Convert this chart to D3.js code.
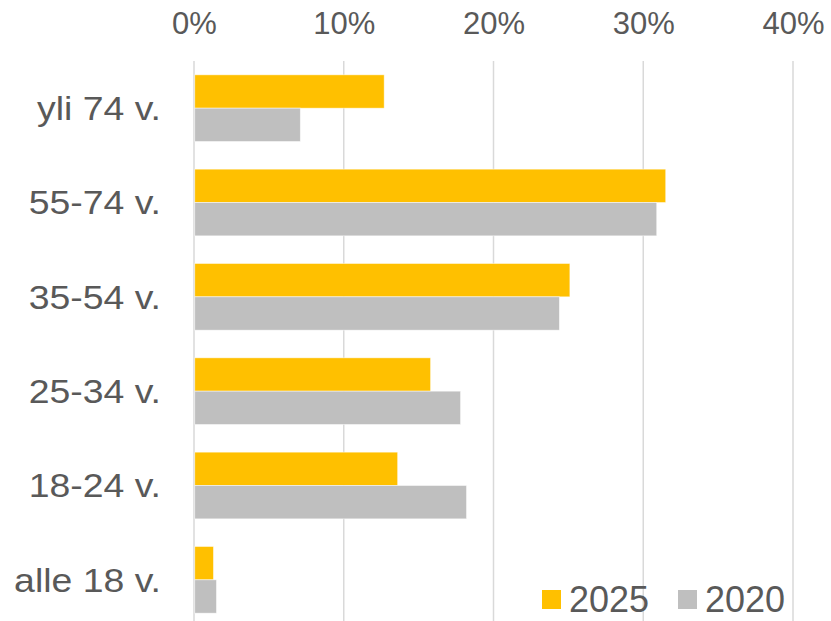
<!DOCTYPE html>
<html>
<head>
<meta charset="utf-8">
<script src="https://cdn.jsdelivr.net/npm/d3@7"></script>
<style>
  html, body { margin: 0; padding: 0; background: #fff; }
  svg { display: block; }
  text { font-family: "Liberation Sans", Arial, sans-serif; fill: #595959; }
</style>
</head>
<body>
<script>
const categories = ["yli 74 v.", "55-74 v.", "35-54 v.", "25-34 v.", "18-24 v.", "alle 18 v."];
const seriesNames = ["2025", "2020"];
const values2025 = [12.7, 31.5, 25.1, 15.8, 13.6, 1.3];
const values2020 = [7.1, 30.9, 24.4, 17.8, 18.2, 1.5];
const tickValues = [0, 10, 20, 30, 40];
const colors = ["#FFC000", "#BFBFBF"];

const W = 831, H = 621;
const svg = d3.select("body").append("svg").attr("width", W).attr("height", H);

const x = d3.scaleLinear().domain([0, 40]).range([194, 793]);
const y = d3.scaleBand().domain(categories).range([61, 627]).paddingInner(0.293).paddingOuter(0.1465);
const ySub = d3.scaleBand().domain(seriesNames).range([0, y.bandwidth()]);

// gridlines
svg.append("g").selectAll("line").data(tickValues).join("line")
  .attr("x1", d => x(d)).attr("x2", d => x(d))
  .attr("y1", 61).attr("y2", H)
  .attr("stroke", "#d9d9d9").attr("stroke-width", 1.5);

// top axis labels
const axis = d3.axisTop(x).tickValues(tickValues).tickFormat(d => d + "%").tickSize(0).tickPadding(0);
const ag = svg.append("g").attr("transform", "translate(0,34)").call(axis);
ag.select(".domain").remove();
ag.selectAll("text").attr("font-size", 31).attr("fill", "#595959")
  .attr("font-family", "Liberation Sans, Arial, sans-serif").attr("dy", 0);

// bars
const rows = categories.map((c, i) => ({ cat: c, vals: [values2025[i], values2020[i]] }));
const groups = svg.append("g").selectAll("g").data(rows).join("g")
  .attr("transform", d => `translate(0,${y(d.cat)})`);
groups.selectAll("rect").data(d => d.vals.map((v, j) => ({ v, s: seriesNames[j], j })))
  .join("rect")
  .attr("x", x(0) + 0.75)
  .attr("y", d => ySub(d.s))
  .attr("width", d => x(d.v) - x(0) - 0.75)
  .attr("height", ySub.bandwidth())
  .attr("fill", d => colors[d.j])
  .attr("stroke", "#ffffff").attr("stroke-opacity", 0.6).attr("stroke-width", 0.8);

// category labels
svg.append("g").selectAll("text").data(categories).join("text")
  .attr("transform", d => `translate(161,${y(d) + y.bandwidth() / 2 + 11.8}) scale(1.1,1)`)
  .attr("text-anchor", "end")
  .attr("font-size", 34)
  .text(d => d);

// legend
const legendX = [542, 678];
const lg = svg.append("g").selectAll("g").data(seriesNames).join("g")
  .attr("transform", (d, i) => `translate(${legendX[i]},0)`);
lg.append("rect").attr("x", 0).attr("y", 590).attr("width", 19).attr("height", 19)
  .attr("fill", (d, i) => colors[i]);
lg.append("text").attr("x", 27).attr("y", 611.5)
  .attr("font-size", 36)
  .text(d => d);
</script>
</body>
</html>
